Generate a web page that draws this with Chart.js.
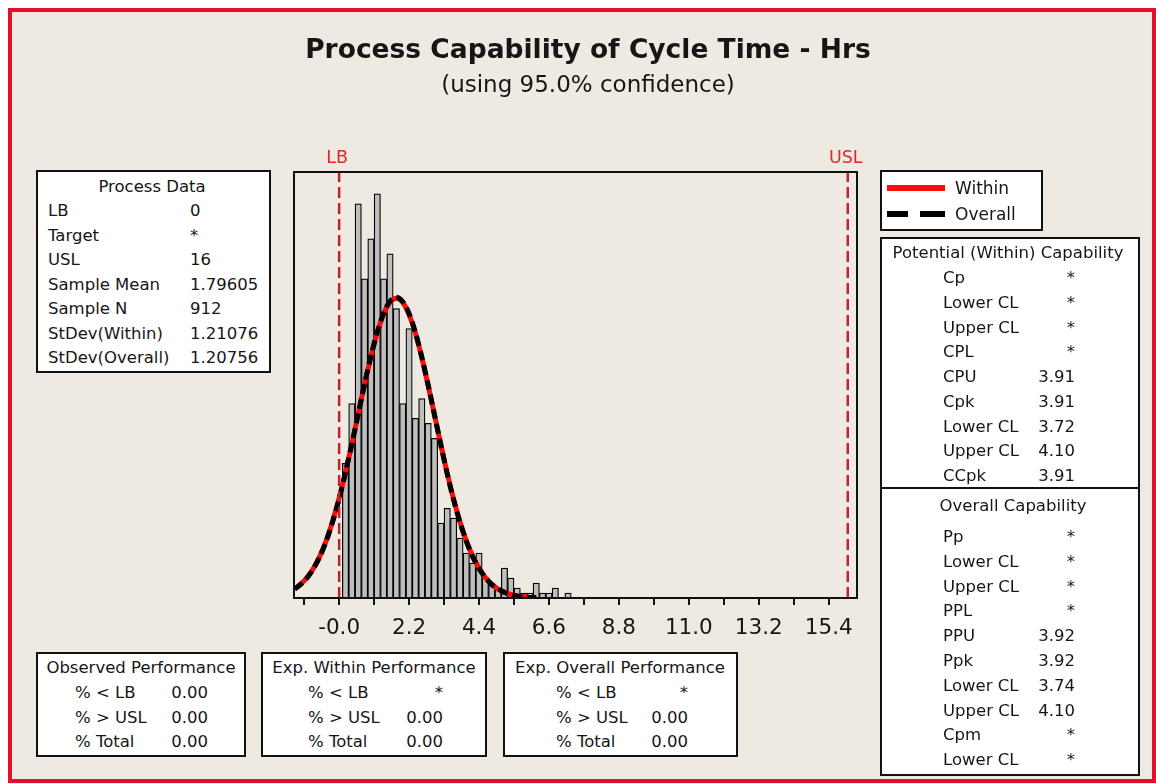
<!DOCTYPE html>
<html><head><meta charset="utf-8">
<script src="https://cdn.jsdelivr.net/npm/chart.js@4.4.1/dist/chart.umd.min.js"></script>
<style>
html,body{margin:0;padding:0;background:#fff;}
#page{position:relative;width:1156px;height:784px;overflow:hidden;font-family:"DejaVu Sans",sans-serif;color:#161616;}
#frame{position:absolute;left:8px;top:8px;width:1148px;height:775px;box-sizing:border-box;border:4px solid #E60F2A;background:#EEEAE1;}
#c{position:absolute;left:0;top:0;}
.box{position:absolute;background:#fff;border:2px solid #111;box-sizing:border-box;}
.t{position:absolute;white-space:nowrap;font-size:16.5px;line-height:20px;}
.title{position:absolute;white-space:nowrap;left:588px;transform:translateX(-50%);}
</style></head>
<body>
<div id="page">
  <div id="frame"></div>
  <canvas id="c" width="1156" height="784"></canvas>
  <div class="title" style="top:32px;font-size:26.5px;font-weight:bold;line-height:34px;">Process Capability of Cycle Time - Hrs</div>
  <div class="title" style="top:70px;font-size:23px;line-height:28px;">(using 95.0% confidence)</div>
</div>
<script>
// ---- data ----
const binCenters = [0.2,0.4,0.6,0.8,1.0,1.2,1.4,1.6,1.8,2.0,2.2,2.4,2.6,2.8,3.0,3.2,3.4,3.6,3.8,4.0,4.2,4.4,4.6,4.8,5.0,5.2,5.4,5.6,5.8,6.0,6.2,6.4,6.6,6.8,7.0,7.2];
const binCounts  = [27,39,79,64,72,81,64,69,58,39,54,36,40,35,32,15,18,16,12,9,7,9,4,3,2,6,4,2,1,1,3,1,1,2,0,1];
const curveX     = [-1.4,-1.2,-1.0,-0.8,-0.6,-0.4,-0.2,0.0,0.2,0.4,0.6,0.8,1.0,1.2,1.4,1.6,1.8,2.0,2.2,2.4,2.6,2.8,3.0,3.2,3.4,3.6,3.8,4.0,4.2,4.4,4.6,4.8,5.0,5.2,5.4,5.6,5.8,6.0,6.2];
const withinFit  = [1.8,2.8,4.2,6.0,8.5,11.6,15.5,20.0,25.2,30.9,36.9,42.9,48.4,53.2,57.0,59.3,60.1,59.3,56.8,53.1,48.2,42.6,36.7,30.7,25.0,19.8,15.3,11.5,8.4,6.0,4.1,2.8,1.8,1.2,0.7,0.4,0.3,0.1,0.1];
const overallFit = [1.8,2.8,4.1,6.0,8.4,11.5,15.4,19.9,25.2,30.9,36.9,42.9,48.5,53.3,57.1,59.5,60.3,59.4,57.0,53.2,48.3,42.7,36.7,30.7,24.9,19.7,15.2,11.4,8.3,5.9,4.1,2.7,1.8,1.1,0.7,0.4,0.2,0.1,0.1];
const specValues = [0, 16];
const specNames  = ['LB', 'USL'];
const tickValues = [-1.1,0,1.1,2.2,3.3,4.4,5.5,6.6,7.7,8.8,9.9,11.0,12.1,13.2,14.3,15.4];
const tickLabels = ['','-0.0','','2.2','','4.4','','6.6','','8.8','','11.0','','13.2','','15.4'];

const processLabels = ['LB','Target','USL','Sample Mean','Sample N','StDev(Within)','StDev(Overall)'];
const processValues = ['0','*','16','1.79605','912','1.21076','1.20756'];
const potentialLabels = ['Cp','Lower CL','Upper CL','CPL','CPU','Cpk','Lower CL','Upper CL','CCpk'];
const potentialValues = ['*','*','*','*','3.91','3.91','3.72','4.10','3.91'];
const overallLabels = ['Pp','Lower CL','Upper CL','PPL','PPU','Ppk','Lower CL','Upper CL','Cpm','Lower CL'];
const overallValues = ['*','*','*','*','3.92','3.92','3.74','4.10','*','*'];
const perfLabels = ['% < LB','% > USL','% Total'];
const observedPerf = ['0.00','0.00','0.00'];
const withinPerf = ['*','0.00','0.00'];
const overallPerf = ['*','0.00','0.00'];

const X_MIN = -1.42, X_MAX = 16.29, Y_MAX = 85.4;

// ---- panels ----
const page = document.getElementById('page');
function box(l,t,r,b){const d=document.createElement('div');d.className='box';Object.assign(d.style,{left:l+'px',top:t+'px',width:(r-l)+'px',height:(b-t)+'px'});page.appendChild(d);return d;}
function text(s,x,y,align,extra){const d=document.createElement('div');d.className='t';d.textContent=s;d.style.left=x+'px';d.style.top=(y-10)+'px';if(align==='c')d.style.transform='translateX(-50%)';else if(align==='r')d.style.transform='translateX(-100%)';if(extra)Object.assign(d.style,extra);page.appendChild(d);return d;}
function rows(labels,values,y0,step,lx,vx,valign){labels.forEach((l,i)=>{text(l,lx,y0+i*step,'l');text(values[i],vx,y0+i*step,valign);});}

box(36,170,271,373);
text('Process Data',152,187,'c');
rows(processLabels,processValues,211,24.5,48,190,'l');

// legend
box(880,170,1043,231);
const red = document.createElement('div');Object.assign(red.style,{position:'absolute',left:'887px',top:'185px',width:'58px',height:'6px',background:'#FF0A0A'});page.appendChild(red);
[[887,21],[920,25]].forEach(([x,w])=>{const d=document.createElement('div');Object.assign(d.style,{position:'absolute',left:x+'px',top:'211px',width:w+'px',height:'6px',background:'#000'});page.appendChild(d);});
text('Within',955,188,'l',{fontSize:'17px'});
text('Overall',955,214,'l',{fontSize:'17px'});

box(880,237,1140,776);
const div = document.createElement('div');Object.assign(div.style,{position:'absolute',left:'880px',top:'487px',width:'260px',height:'2px',background:'#111'});page.appendChild(div);
text('Potential (Within) Capability',1008,253,'c');
rows(potentialLabels,potentialValues,278,24.75,943,1075,'r');
text('Overall Capability',1013,506,'c');
rows(overallLabels,overallValues,537,24.8,943,1075,'r');

box(36,652,246,757);
text('Observed Performance',141,668,'c');
rows(perfLabels,observedPerf,693,24.5,75,208,'r');
box(261,652,487,757);
text('Exp. Within Performance',374,668,'c');
rows(perfLabels,withinPerf,693,24.5,308,443,'r');
box(503,652,738,757);
text('Exp. Overall Performance',620,668,'c');
rows(perfLabels,overallPerf,693,24.5,556,688,'r');

// ---- chart ----
const FONT = '"DejaVu Sans", sans-serif';
const framePlugin = {
  id:'frameplug',
  afterDraw(chart){
    const {ctx, chartArea:a, scales:{x}} = chart;
    ctx.save();
    ctx.strokeStyle='#111'; ctx.lineWidth=2;
    ctx.strokeRect(a.left, a.top, a.right-a.left, a.bottom-a.top);
    ctx.fillStyle='#E3262C'; ctx.font='17.5px '+FONT; ctx.textAlign='center'; ctx.textBaseline='middle';
    specValues.forEach((v,i)=>ctx.fillText(specNames[i], x.getPixelForValue(v)-2, a.top-14));
    ctx.restore();
  }
};

const datasets = [
  {type:'line', label:'LBline', data:[{x:specValues[0],y:0},{x:specValues[0],y:Y_MAX}], borderColor:'#C8202A', borderWidth:2.5, borderDash:[11,5], pointRadius:0, order:0},
  {type:'line', label:'USLline', data:[{x:specValues[1],y:0},{x:specValues[1],y:Y_MAX}], borderColor:'#C8202A', borderWidth:2.5, borderDash:[11,5], pointRadius:0, order:0},
  {type:'line', label:'Overall', data:curveX.map((x,i)=>({x,y:overallFit[i]})), borderColor:'#000', borderWidth:5, borderDash:[10,5], pointRadius:0, tension:0.3, fill:false, order:1},
  {type:'line', label:'Within', data:curveX.map((x,i)=>({x,y:withinFit[i]})), borderColor:'#FF0A0A', borderWidth:5, pointRadius:0, tension:0.3, fill:false, order:2},
  {type:'bar', label:'Counts', data:binCenters.map((x,i)=>({x,y:binCounts[i]})), backgroundColor:'#BEBEBE', borderColor:'#000', borderWidth:1.25, barPercentage:1, categoryPercentage:1, order:3}
];

new Chart(document.getElementById('c'), {
  type:'bar',
  data:{datasets},
  plugins:[framePlugin],
  options:{
    responsive:false, animation:false, devicePixelRatio:1,
    layout:{padding:{left:294,right:299,top:172,bottom:0}},
    plugins:{legend:{display:false},tooltip:{enabled:false},title:{display:false}},
    scales:{
      x:{type:'linear', min:X_MIN, max:X_MAX, offset:false,
        afterBuildTicks:s=>{s.ticks=tickValues.map(v=>({value:v}));},
        afterFit:s=>{s.height=186;},
        ticks:{autoSkip:false,maxRotation:0,minRotation:0,padding:11,color:'#161616',font:{family:FONT,size:21.5},callback:(v,i)=>tickLabels[i]},
        grid:{display:true,drawOnChartArea:false,drawTicks:true,tickLength:7,color:'#111',lineWidth:2,offset:false},
        border:{display:true,color:'#111',width:2}
      },
      y:{display:false,min:0,max:Y_MAX}
    }
  }
});
</script>
</body></html>
